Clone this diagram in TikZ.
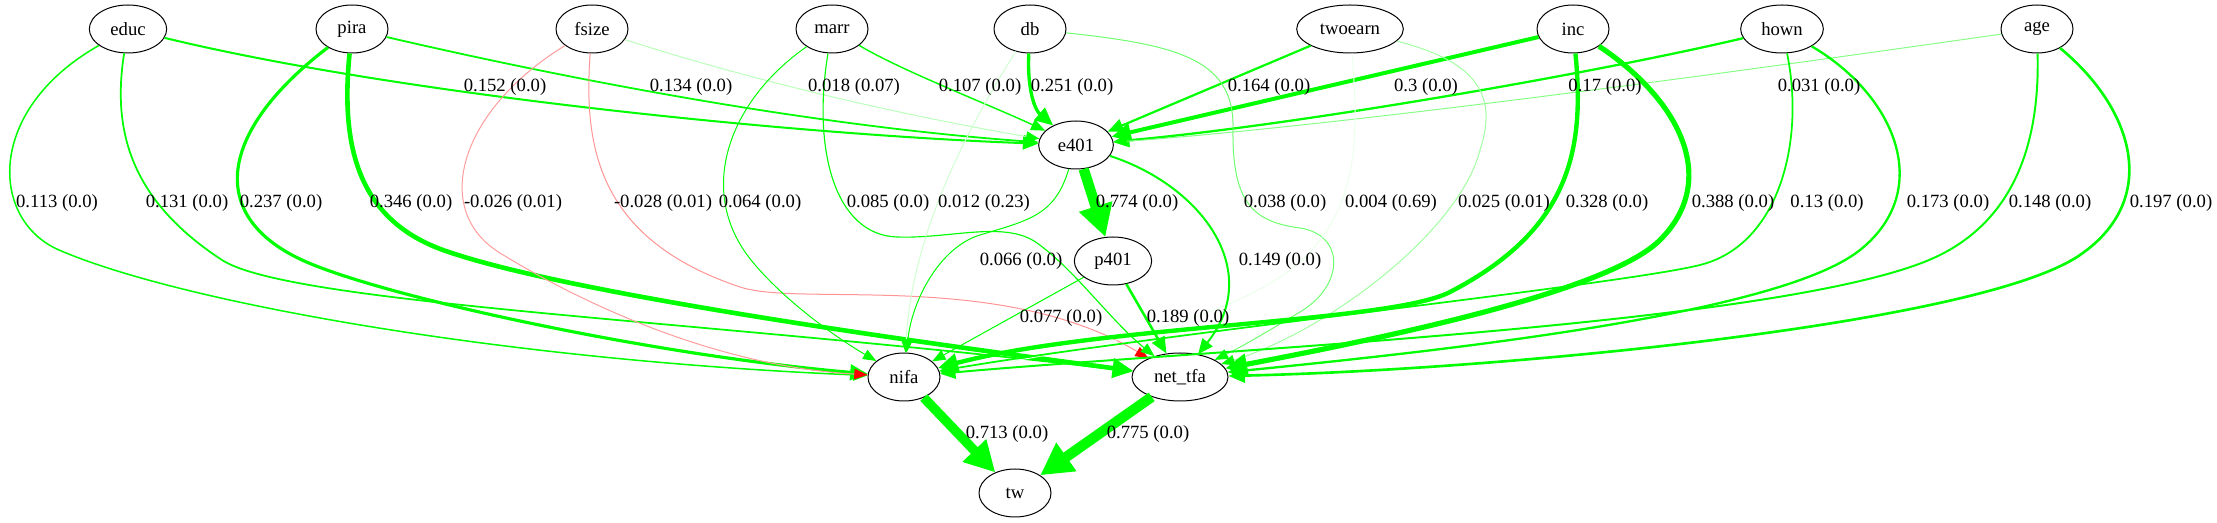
\documentclass[tikz,border=0pt]{standalone}
\usepackage{fontspec}
\setmainfont{Liberation Serif}
\usetikzlibrary{arrows.meta, shapes.geometric}

\begin{document}
\begin{tikzpicture}[
		x=0.75pt, y=-0.75pt,
		var/.style={draw, ellipse, line width=0.75pt, minimum width=54pt, minimum height=36pt, inner sep=1pt, font=\fontsize{14}{16}\selectfont},
		lbl/.style={inner sep=0pt, font=\fontsize{14}{16}\selectfont},
		pe/.style 2 args={-{Triangle[length=8.5pt 2, width=6pt 2.4, color=green]}, draw=green!#2!white, line width=#1pt},
		ne/.style 2 args={-{Triangle[length=8.5pt 2, width=6pt 2.4, color=red]}, draw=red!#2!white, line width=#1pt}
		]
		\useasboundingbox (0,0) rectangle (2217,523);
		
		% Nodes
		\node[var, minimum width=58pt] (educ) at (128,29) {educ};
		\node[var] (pira) at (352,29) {pira};
		\node[var] (fsize) at (592,29) {fsize};
		\node[var] (marr) at (832,29) {marr};
		\node[var] (db) at (1030,29) {db};
		\node[var, minimum width=80pt] (twoearn) at (1350,29) {twoearn};
		\node[var] (inc) at (1573,29) {inc};
		\node[var, minimum width=62pt] (hown) at (1782,29) {hown};
		\node[var] (age) at (2037,29) {age};
		\node[var, minimum width=56pt] (e401) at (1076,145) {e401};
		\node[var, minimum width=58pt] (p401) at (1113,261) {p401};
		\node[var] (nifa) at (904,377) {nifa};
		\node[var, minimum width=72pt] (nettfa) at (1180,377) {net\_tfa};
		\node[var] (tw) at (1015,493) {tw};
		
		% Arrows into e401
		\draw[pe={1.52}{100}] (educ) .. controls (400,95) and (800,135) .. (e401);
		\draw[pe={1.34}{100}] (pira) .. controls (550,75) and (800,125) .. (e401);
		\draw[pe={0.75}{27}] (fsize) .. controls (750,80) and (900,115) .. (e401);
		\draw[pe={1.07}{100}] (marr) .. controls (900,70) and (990,105) .. (e401);
		\draw[pe={2.51}{100}] (db) .. controls (1027,90) and (1035,110) .. (e401);
		\draw[pe={1.64}{100}] (twoearn) -- (e401);
		\draw[pe={3.0}{100}] (inc) -- (e401);
		\draw[pe={1.7}{100}] (hown) .. controls (1600,72) and (1300,125) .. (e401);
		\draw[pe={0.75}{47}] (age) .. controls (1750,70) and (1350,125) .. (e401);
		
		% Arrows into nifa and net_tfa
		\draw[pe={1.13}{100}] (educ) .. controls (-15,110) and (-10,220) .. (59,250) .. controls (179,302) and (500,360) .. (nifa);
		\draw[pe={1.31}{100}] (educ) .. controls (112,130) and (130,200) .. (222,260) .. controls (290,304) and (700,320) .. (nettfa);
		\draw[pe={2.37}{100}] (pira) .. controls (220,130) and (205,215) .. (302,260) .. controls (380,296) and (650,355) .. (nifa);
		\draw[pe={3.46}{100}] (pira) .. controls (340,150) and (360,220) .. (443,250) .. controls (560,292) and (900,340) .. (nettfa);
		\draw[ne={0.75}{39}] (fsize) .. controls (460,110) and (430,210) .. (500,253) .. controls (560,290) and (700,365) .. (nifa);
		\draw[ne={0.75}{42}] (fsize) .. controls (583,150) and (600,240) .. (740,287) .. controls (800,307) and (1000,270) .. (nettfa);
		\draw[pe={0.75}{100}] (marr) .. controls (730,100) and (695,190) .. (751,260) .. controls (785,302) and (840,340) .. (nifa);
		\draw[pe={0.85}{100}] (marr) .. controls (812,150) and (835,235) .. (897,237) .. controls (950,239) and (1005,220) .. (1037,243) .. controls (1075,270) and (1110,320) .. (nettfa);
		\draw[pe={0.75}{18}] (db) .. controls (960,140) and (912,240) .. (nifa);
		\draw[pe={0.75}{57}] (db) .. controls (1180,45) and (1235,60) .. (1233,130) .. controls (1232,205) and (1255,222) .. (1300,228) .. controls (1345,235) and (1345,285) .. (1300,312) .. controls (1270,330) and (1245,345) .. (nettfa);
		\draw[pe={0.75}{8}] (twoearn) .. controls (1360,150) and (1355,210) .. (1300,262) .. controls (1240,315) and (1100,350) .. (nifa);
		\draw[pe={0.75}{37}] (twoearn) .. controls (1470,60) and (1500,90) .. (1480,150) .. controls (1460,230) and (1330,330) .. (nettfa);
		\draw[pe={3.28}{100}] (inc) .. controls (1585,150) and (1570,230) .. (1450,292) .. controls (1390,323) and (1100,325) .. (nifa);
		\draw[pe={3.88}{100}] (inc) .. controls (1680,100) and (1720,180) .. (1660,240) .. controls (1610,290) and (1400,335) .. (nettfa);
		\draw[pe={1.3}{100}] (hown) .. controls (1805,140) and (1780,245) .. (1700,265) .. controls (1620,285) and (1150,335) .. (nifa);
		\draw[pe={1.73}{100}] (hown) .. controls (1895,95) and (1935,190) .. (1860,250) .. controls (1780,314) and (1450,350) .. (nettfa);
		\draw[pe={1.48}{100}] (age) .. controls (2040,150) and (2010,220) .. (1940,255) .. controls (1800,325) and (1200,350) .. (nifa);
		\draw[pe={1.97}{100}] (age) .. controls (2135,110) and (2160,200) .. (2080,255) .. controls (1980,324) and (1500,370) .. (nettfa);
		
		% Arrows out of e401 and p401
		\draw[pe={0.75}{100}] (e401) .. controls (1055,215) and (1030,220) .. (980,235) .. controls (940,247) and (912,300) .. (nifa);
		\draw[pe={1.49}{100}] (e401) .. controls (1200,185) and (1265,270) .. (nettfa);
		\draw[pe={7.74}{100}] (e401) -- (p401);
		\draw[pe={0.77}{100}] (p401) -- (nifa);
		\draw[pe={1.89}{100}] (p401) -- (nettfa);
		\draw[pe={7.13}{100}] (nifa) -- (tw);
		\draw[pe={7.75}{100}] (nettfa) -- (tw);
		
		% Labels
		\node[lbl] (lab-educ-e401) at (505,87) {0.152 (0.0)};
		\node[lbl] (lab-pira-e401) at (691,87) {0.134 (0.0)};
		\node[lbl] (lab-fsize-e401) at (854,87) {0.018 (0.07)};
		\node[lbl] (lab-marr-e401) at (980,87) {0.107 (0.0)};
		\node[lbl] (lab-db-e401) at (1072,87) {0.251 (0.0)};
		\node[lbl] (lab-twoearn-e401) at (1269,87) {0.164 (0.0)};
		\node[lbl] (lab-inc-e401) at (1426,87) {0.3 (0.0)};
		\node[lbl] (lab-hown-e401) at (1605,87) {0.17 (0.0)};
		\node[lbl] (lab-age-e401) at (1819,87) {0.031 (0.0)};
		
		\node[lbl] (lab-educ-nifa) at (57,203) {0.113 (0.0)};
		\node[lbl] (lab-educ-nettfa) at (187,203) {0.131 (0.0)};
		\node[lbl] (lab-pira-nifa) at (281,203) {0.237 (0.0)};
		\node[lbl] (lab-pira-nettfa) at (411,203) {0.346 (0.0)};
		\node[lbl] (lab-fsize-nifa) at (513,203) {-0.026 (0.01)};
		\node[lbl] (lab-fsize-nettfa) at (663,203) {-0.028 (0.01)};
		\node[lbl] (lab-marr-nifa) at (760,203) {0.064 (0.0)};
		\node[lbl] (lab-marr-nettfa) at (888,203) {0.085 (0.0)};
		\node[lbl] (lab-db-nifa) at (984,203) {0.012 (0.23)};
		\node[lbl] (lab-e401-p401) at (1137,203) {0.774 (0.0)};
		\node[lbl] (lab-db-nettfa) at (1285,203) {0.038 (0.0)};
		\node[lbl] (lab-twoearn-nifa) at (1391,203) {0.004 (0.69)};
		\node[lbl] (lab-twoearn-nettfa) at (1504,203) {0.025 (0.01)};
		\node[lbl] (lab-inc-nifa) at (1607,203) {0.328 (0.0)};
		\node[lbl] (lab-inc-nettfa) at (1733,203) {0.388 (0.0)};
		\node[lbl] (lab-hown-nifa) at (1827,203) {0.13 (0.0)};
		\node[lbl] (lab-hown-nettfa) at (1948,203) {0.173 (0.0)};
		\node[lbl] (lab-age-nifa) at (2050,203) {0.148 (0.0)};
		\node[lbl] (lab-age-nettfa) at (2171,203) {0.197 (0.0)};
		
		\node[lbl] (lab-e401-nifa) at (1021,261) {0.066 (0.0)};
		\node[lbl] (lab-e401-nettfa) at (1280,261) {0.149 (0.0)};
		\node[lbl] (lab-p401-nifa) at (1061,318) {0.077 (0.0)};
		\node[lbl] (lab-p401-nettfa) at (1188,318) {0.189 (0.0)};
		\node[lbl] (lab-nifa-tw) at (1007,434) {0.713 (0.0)};
		\node[lbl] (lab-nettfa-tw) at (1148,434) {0.775 (0.0)};
		
	\end{tikzpicture}
\end{document}
